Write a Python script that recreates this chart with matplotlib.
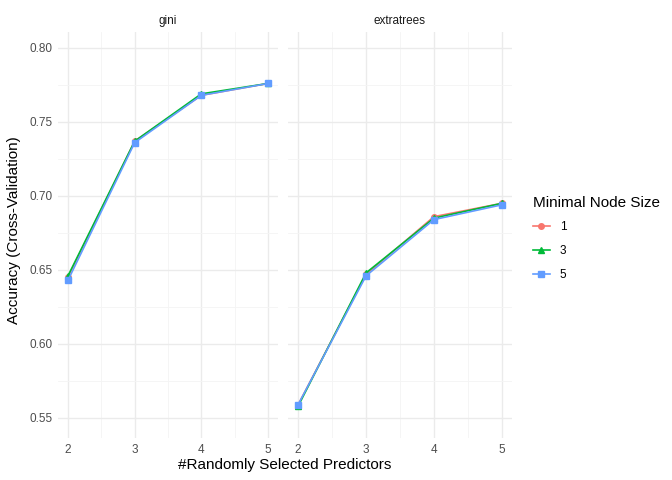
import matplotlib
matplotlib.use("Agg")
import matplotlib.pyplot as plt
from matplotlib.lines import Line2D

plt.rcParams["font.family"] = ["Liberation Sans", "DejaVu Sans"]

# Data
predictors = [2, 3, 4, 5]
panels = ["gini", "extratrees"]
node_sizes = ["1", "3", "5"]
acc = {
    "gini": {
        "1": [0.645, 0.737, 0.768, 0.776],
        "3": [0.646, 0.737, 0.769, 0.776],
        "5": [0.643, 0.736, 0.768, 0.776],
    },
    "extratrees": {
        "1": [0.559, 0.647, 0.686, 0.695],
        "3": [0.558, 0.648, 0.685, 0.695],
        "5": [0.559, 0.646, 0.684, 0.694],
    },
}
colors = {"1": "#F8766D", "3": "#00BA38", "5": "#619CFF"}
markers = {"1": "o", "3": "^", "5": "s"}

fig = plt.figure(figsize=(6.72, 4.8), dpi=100)
W, H = 672, 480
boxes = [(58, 278), (288, 512)]
top, bottom = 32, 438
axes = []
for (l, r), name in zip(boxes, panels):
    ax = fig.add_axes([l / W, 1 - bottom / H, (r - l) / W, (bottom - top) / H])
    for k in node_sizes:
        ax.plot(predictors, acc[name][k], color=colors[k], marker=markers[k],
                markersize=4, linewidth=1.2)
    ax.set_xlim(1.85, 5.15)
    ax.set_ylim(0.5364, 0.8108)
    ax.set_xticks(predictors)
    ax.set_xticks([2.5, 3.5, 4.5], minor=True)
    ax.set_yticks([0.55, 0.60, 0.65, 0.70, 0.75, 0.80])
    ax.set_yticks([0.575, 0.625, 0.675, 0.725, 0.775], minor=True)
    ax.grid(True, which="major", color="#EBEBEB", linewidth=1.0)
    ax.grid(True, which="minor", color="#F4F4F4", linewidth=0.6)
    ax.set_axisbelow(True)
    for s in ax.spines.values():
        s.set_visible(False)
    ax.tick_params(which="both", length=0, labelsize=8.5, colors="#4D4D4D", pad=4)
    ax.set_title(name, fontsize=8.5, color="#1A1A1A", pad=6)
    axes.append(ax)

axes[0].set_yticklabels(["0.55", "0.60", "0.65", "0.70", "0.75", "0.80"])
axes[1].tick_params(labelleft=False)
fig.text((58 + 512) / 2 / W, 1 - 465 / H, "#Randomly Selected Predictors",
         ha="center", va="center", fontsize=11)
fig.text(14 / W, 1 - 230 / H, "Accuracy (Cross-Validation)", rotation=90,
         ha="center", va="center", fontsize=11)

handles = [Line2D([0], [0], color=colors[k], marker=markers[k], markersize=4,
                  linewidth=1.2) for k in node_sizes]
leg = fig.legend(handles, node_sizes, title="Minimal Node Size", loc="upper left",
                 bbox_to_anchor=(522 / W, 1 - 185 / H), frameon=False, fontsize=8.5,
                 title_fontsize=11, handlelength=1.5, labelspacing=1.0)
leg._legend_box.align = "left"

fig.savefig("out.png", dpi=100)
